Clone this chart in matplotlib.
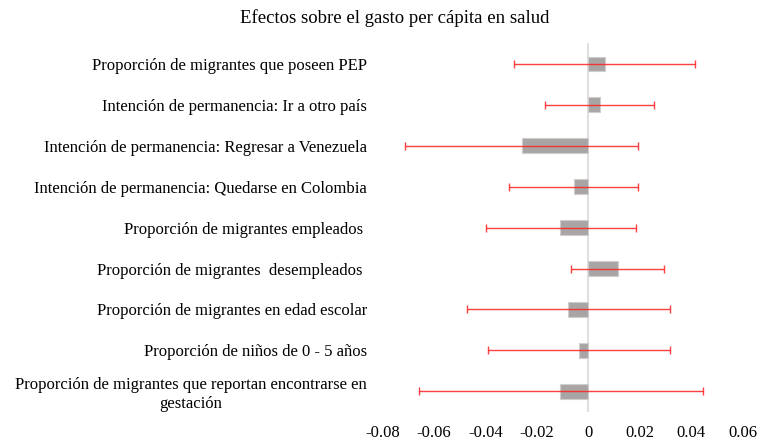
import matplotlib.pyplot as plt

labels = [
    "Proporción de migrantes que poseen PEP",
    "Intención de permanencia: Ir a otro país",
    "Intención de permanencia: Regresar a Venezuela",
    "Intención de permanencia: Quedarse en Colombia",
    "Proporción de migrantes empleados ",
    "Proporción de migrantes  desempleados ",
    "Proporción de migrantes en edad escolar",
    "Proporción de niños de 0 - 5 años",
    "Proporción de migrantes que reportan encontrarse en\ngestación",
]
coef = [0.0063, 0.0043, -0.0259, -0.0058, -0.0109, 0.0113, -0.0078, -0.0037, -0.0109]
ci_low = [-0.0290, -0.0170, -0.0714, -0.0311, -0.0400, -0.0068, -0.0473, -0.0391, -0.0661]
ci_high = [0.0416, 0.0254, 0.0193, 0.0193, 0.0184, 0.0294, 0.0317, 0.0317, 0.0446]

plt.rcParams['font.family'] = ['Liberation Serif', 'DejaVu Serif']

fig = plt.figure(figsize=(7.61, 4.41), dpi=100)
ax = fig.add_axes([0.503, 0.066, 0.473, 0.836])

y = list(range(len(labels)))
ax.barh(y, coef, height=0.35, color='#a9a5a5', edgecolor='#d0cdcd', linewidth=0.8, zorder=2)
err_lo = [c - lo for c, lo in zip(coef, ci_low)]
err_hi = [hi - c for c, hi in zip(coef, ci_high)]
ax.errorbar(coef, y, xerr=[err_lo, err_hi], fmt='none', ecolor='#ff2020',
            elinewidth=1.0, capsize=3, capthick=1.0, alpha=0.85, zorder=3)
ax.axvline(0, color='#e0e0e0', linewidth=1.5, zorder=1)

ax.set_xlim(-0.08, 0.06)
ax.set_ylim(len(labels) - 0.5, -0.5)
ax.set_xticks([-0.08, -0.06, -0.04, -0.02, 0, 0.02, 0.04, 0.06])
ax.set_xticklabels(['-0.08', '-0.06', '-0.04', '-0.02', '0', '0.02', '0.04', '0.06'])
ax.set_yticks(y)
ax.set_yticklabels(labels, multialignment='center')
ax.tick_params(axis='both', length=0, labelsize=12)
ax.tick_params(axis='y', pad=11.5)
ax.tick_params(axis='x', pad=9.5)
for s in ax.spines.values():
    s.set_visible(False)

fig.text(0.518, 0.96, "Efectos sobre el gasto per cápita en salud", ha='center', va='center', fontsize=13.5)

fig.savefig("out.png", dpi=100)
